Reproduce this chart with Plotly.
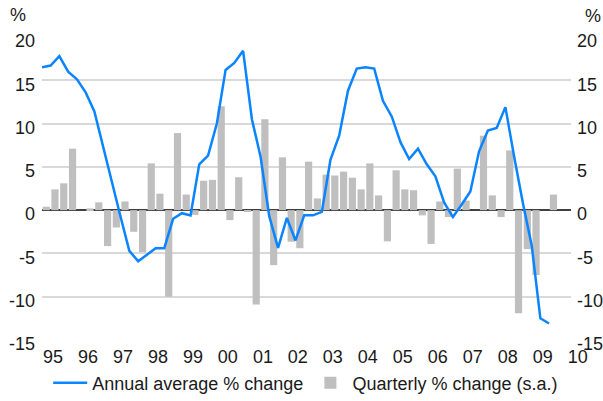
import pandas as pd
import plotly.graph_objects as go

# Quarters 1995Q1 .. 2009Q3
quarters = pd.date_range("1995-01-01", periods=59, freq="QS")

quarterly_change = [
    0.4, 2.4, 3.1, 7.1,
    0.0, 0.2, 0.9, -4.15,
    -2.0, 1.0, -2.5, -4.85,
    5.4, 1.9, -10.0, 8.9,
    1.8, -0.55, 3.4, 3.5,
    12.0, -1.15, 3.8, -0.2,
    -10.9, 10.5, -6.35, 6.1,
    -3.65, -4.4, 5.6, 1.35,
    4.1, 4.0, 4.45, 3.75,
    2.4, 5.4, 1.7, -3.6,
    4.6, 2.4, 2.3, -0.6,
    -3.9, 1.0, -0.8, 4.8,
    1.1, 0.0, 8.6, 1.7,
    -0.8, 6.9, -11.9, -4.5,
    -7.5, 0.0, 1.8,
]

annual_avg_change = [
    16.5, 16.7, 17.8, 16.0,
    15.1, 13.6, 11.4, 7.2,
    3.0, -0.8, -4.7, -5.9,
    -5.15, -4.4, -4.4, -1.0,
    -0.35, -0.6, 5.3, 6.3,
    10.0, 16.2, 17.0, 18.4,
    10.5, 6.2, -0.7, -4.35,
    -0.9, -3.5, -0.6, -0.6,
    -0.2, 5.8, 8.6, 13.8,
    16.35, 16.5, 16.35, 12.6,
    10.8, 7.85, 5.9, 7.1,
    5.3, 3.9, 0.9, -0.8,
    0.65, 2.15, 6.8, 9.2,
    9.5, 11.9, 6.2, 0.8,
    -4.1, -12.5, -13.1,
]

y_ticks = [20, 15, 10, 5, 0, -5, -10, -15]
y_tick_text = ["20", "15", "10", "5", "0", "-5", "-10", "-15"]

FONT = "Liberation Sans, Arial, sans-serif"
TXT = "#1a1a1a"

fig = go.Figure()
fig.add_trace(go.Bar(
    x=quarters, y=quarterly_change, name="Quarterly % change (s.a.)",
    xperiod="M3", xperiodalignment="middle",
    marker=dict(color="#BFBFBF", line=dict(width=0)),
    legendrank=2,
))
fig.add_trace(go.Scatter(
    x=quarters, y=annual_avg_change, name="Annual average % change",
    mode="lines", line=dict(color="#0A84FF", width=2.5),
    yaxis="y2", legendrank=1,
))

fig.update_layout(
    width=603, height=401,
    margin=dict(l=42, r=32, t=37, b=61, autoexpand=False),
    paper_bgcolor="white", plot_bgcolor="white",
    font=dict(family=FONT, size=18, color=TXT),
    bargap=0.17,
    showlegend=True,
    legend=dict(orientation="h", xref="container", x=0.507, xanchor="center",
                yref="container", y=0.045, yanchor="middle",
                font=dict(size=18, color=TXT), itemwidth=34,
                bgcolor="rgba(0,0,0,0)"),
    xaxis=dict(type="date", range=["1995-01-01", "2010-02-15"],
               dtick="M12", tick0="1995-01-01", tickformat="%y",
               ticklabelshift=11, ticklabelstandoff=4, automargin=False,
               showgrid=False, zeroline=False,
               showline=False, ticks="", tickfont=dict(size=18, color=TXT)),
    yaxis=dict(range=[-15, 20], tickvals=y_ticks, ticktext=y_tick_text,
               showgrid=True, automargin=False,
               gridcolor="#D9D9D9", gridwidth=1.5,
               zeroline=True, zerolinecolor="#404040", zerolinewidth=1.5,
               showline=False, ticks="", ticklabelstandoff=6,
               ticklabelshift=4, tickfont=dict(size=18, color=TXT)),
    yaxis2=dict(range=[-15, 20], tickvals=y_ticks, ticktext=y_tick_text,
                overlaying="y", side="right", automargin=False,
                showgrid=False, zeroline=False, showline=False, ticks="",
                ticklabelstandoff=5, ticklabelshift=4,
                tickfont=dict(size=18, color=TXT)),
    annotations=[
        dict(text="%", xref="paper", yref="paper", x=-0.0454, y=1.071,
             showarrow=False, font=dict(size=18, color=TXT),
             xanchor="center", yanchor="middle"),
        dict(text="%", xref="paper", yref="paper", x=1.0416, y=1.070,
             showarrow=False, font=dict(size=18, color=TXT),
             xanchor="center", yanchor="middle"),
    ],
)

fig.write_html(
    "out.html",
    config={"displayModeBar": False},
    post_script="document.body.style.margin='0';document.body.style.overflow='hidden';",
)
